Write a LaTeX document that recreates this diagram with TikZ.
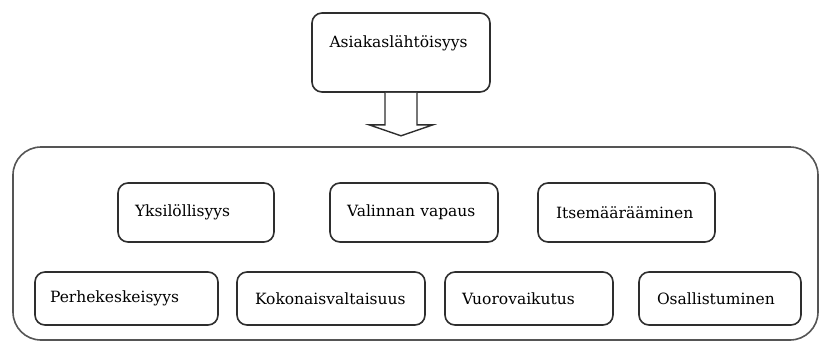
\documentclass[tikz,border=0pt]{standalone}
\usepackage{fontspec}
\setmainfont{DejaVu Serif}
\newfontfamily\boxfont{DejaVu Serif}
\usetikzlibrary{calc}
\definecolor{edge}{HTML}{2E2E2E}
\definecolor{frameedge}{HTML}{555555}
\tikzset{
  box/.style={draw=edge, line width=1.6pt, rounded corners=10pt, fill=white,
    align=left, anchor=center, inner sep=0pt, font=\boxfont\fontsize{15.5}{18}\selectfont},
  bigbox/.style={draw=frameedge, line width=1.6pt, rounded corners=28pt},
  arrowshape/.style={draw=edge, line width=1.4pt, fill=white, line join=miter}
}
\begin{document}
\begin{tikzpicture}[x=1pt,y=-1pt]
\useasboundingbox (0,0) rectangle (820,349);
% outer frame
\node[bigbox, minimum width=805pt, minimum height=193pt, inner sep=0pt] (frame) at (415.5,243.5) {};
% top box
\node[box, minimum width=178pt, minimum height=79pt, text width=143pt, text depth=22pt] (top) at (401,52.5) {Asiakaslähtöisyys};
% arrow
\coordinate (tip) at ($(top.south)+(0,43)$);
\draw[arrowshape] ($(top.south)+(-16,0)$) -- ++(0,32) -- ++(-16,0) -- (tip) -- ($(top.south)+(32,32)$) -- ++(-16,0) -- ($(top.south)+(16,0)$);
% row 1
\node[box, minimum width=156pt, minimum height=59pt, text width=122pt] (yks) at (196,212.5) {Yksilöllisyys};
\node[box, minimum width=168pt, minimum height=59pt, text width=134pt] (val) at (414,212.5) {Valinnan vapaus};
\node[box, minimum width=177pt, minimum height=59pt, text width=141pt] (its) at (626.5,212.5) {Itsemäärääminen};
% row 2
\node[box, minimum width=183pt, minimum height=53pt, text width=153pt] (per) at (126.5,298.5) {Perhekeskeisyys};
\node[box, minimum width=188pt, minimum height=53pt, text width=152pt] (kok) at (331,298.5) {Kokonaisvaltaisuus};
\node[box, minimum width=168pt, minimum height=53pt, text width=134pt] (vuo) at (529,298.5) {Vuorovaikutus};
\node[box, minimum width=162pt, minimum height=53pt, text width=126pt] (osa) at (720,298.5) {Osallistuminen};
\end{tikzpicture}
\end{document}
